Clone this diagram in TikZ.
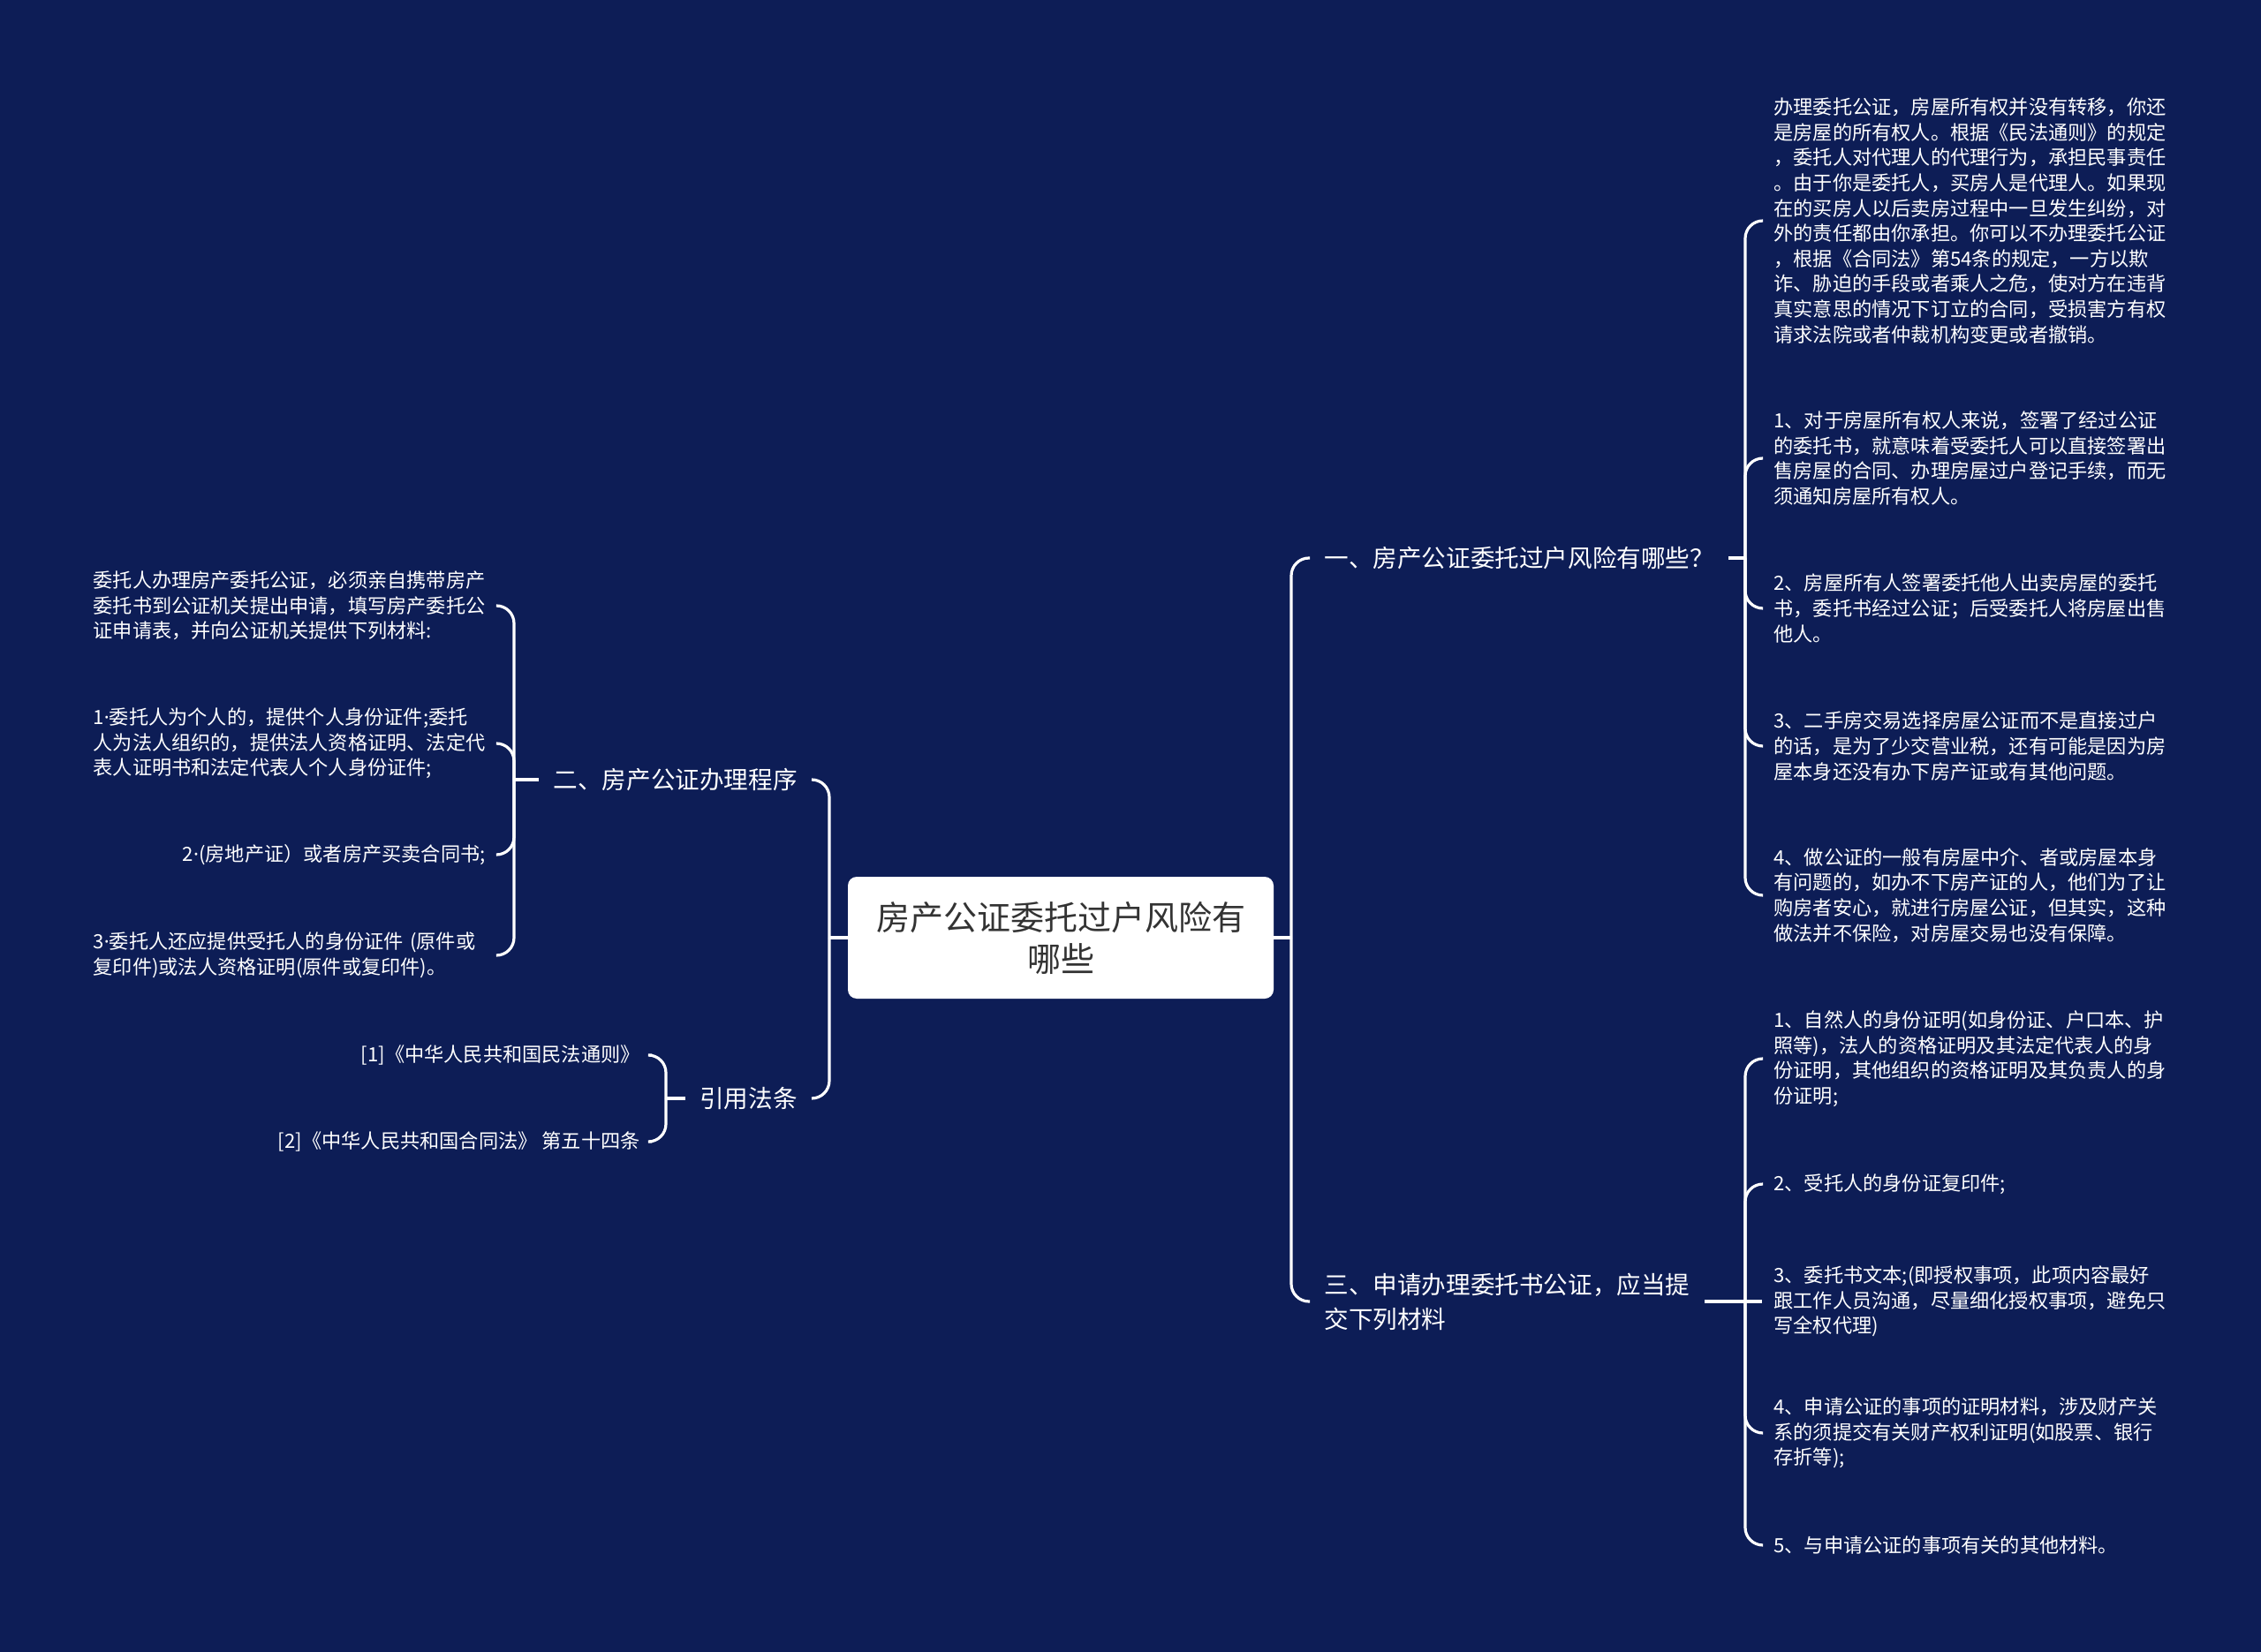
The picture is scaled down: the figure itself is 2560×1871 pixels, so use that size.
\documentclass[tikz,border=0pt]{standalone}
\usepackage{fontspec}
\setmainfont{Noto Sans CJK SC}
\newfontfamily\latinfont{Noto Sans}
\newcommand\mdot{{\latinfont ·}}
\definecolor{bgnavy}{RGB}{13,29,86}
\definecolor{topicgray}{RGB}{51,51,51}

\begin{document}
\begin{tikzpicture}[x=0.5pt,y=-0.5pt,
  link/.style={draw=white,line width=1.6pt,rounded corners=10pt},
  topic/.style={fill=white,rounded corners=5pt,minimum width=241pt,minimum height=69pt,
    align=center,text=topicgray,inner sep=0pt,font=\fontsize{19}{23.5}\selectfont},
  branch/.style={text=white,align=left,inner xsep=8pt,inner ysep=0pt,
    font=\fontsize{13.8}{19.5}\selectfont},
  leaf/.style={text=white,align=left,inner xsep=6.5pt,inner ysep=0pt,
    font=\fontsize{11.1}{14.3}\selectfont},
  wideleaf/.style={leaf,text width=222pt}]
\useasboundingbox (0,0) rectangle (2560,1871);
\fill[bgnavy] (0,0) rectangle (2560,1871);
% ---- central topic ----
\node[topic] (hub) at (1201,1062) {房产公证委托过户风险有\\哪些};
% ---- first level ----
\node[branch,anchor=west] (risk) at (1483,632) {一、房产公证委托过户风险有哪些？};
\node[branch,anchor=west] (apply) at (1483,1474) {三、申请办理委托书公证，应当提\\交下列材料};
\node[branch,anchor=east] (proc) at (919,883) {二、房产公证办理程序};
\node[branch,anchor=east] (law) at (919,1244) {引用法条};
% ---- junctions ----
\coordinate (jr) at (1462,1062);
\coordinate (jl) at (939,1062);
\coordinate (jrisk) at (1976,632);
\coordinate (japply) at (1976,1474);
\coordinate (jproc) at (582,883);
\coordinate (jlaw) at (754,1244);
% ---- leaves: risk ----
\node[leaf,anchor=west] (r1) at (1995,250) {办理委托公证，房屋所有权并没有转移，你还\\是房屋的所有权人。根据《民法通则》的规定\\，委托人对代理人的代理行为，承担民事责任\\。由于你是委托人，买房人是代理人。如果现\\在的买房人以后卖房过程中一旦发生纠纷，对\\外的责任都由你承担。你可以不办理委托公证\\，根据《合同法》第54条的规定，一方以欺\\诈、胁迫的手段或者乘人之危，使对方在违背\\真实意思的情况下订立的合同，受损害方有权\\请求法院或者仲裁机构变更或者撤销。};
\node[leaf,anchor=west] (r2) at (1995,519) {1、对于房屋所有权人来说，签署了经过公证\\的委托书，就意味着受委托人可以直接签署出\\售房屋的合同、办理房屋过户登记手续，而无\\须通知房屋所有权人。};
\node[leaf,anchor=west] (r3) at (1995,689) {2、房屋所有人签署委托他人出卖房屋的委托\\书，委托书经过公证；后受委托人将房屋出售\\他人。};
\node[leaf,anchor=west] (r4) at (1995,845) {3、二手房交易选择房屋公证而不是直接过户\\的话，是为了少交营业税，还有可能是因为房\\屋本身还没有办下房产证或有其他问题。};
\node[leaf,anchor=west] (r5) at (1995,1014) {4、做公证的一般有房屋中介、者或房屋本身\\有问题的，如办不下房产证的人，他们为了让\\购房者安心，就进行房屋公证，但其实，这种\\做法并不保险，对房屋交易也没有保障。};
% ---- leaves: apply ----
\node[leaf,anchor=west] (s1) at (1995,1199) {1、自然人的身份证明(如身份证、户口本、护\\照等)，法人的资格证明及其法定代表人的身\\份证明，其他组织的资格证明及其负责人的身\\份证明;};
\node[leaf,anchor=west] (s2) at (1995,1341) {2、受托人的身份证复印件;};
\node[leaf,anchor=west] (s3) at (1995,1474) {3、委托书文本;(即授权事项，此项内容最好\\跟工作人员沟通，尽量细化授权事项，避免只\\写全权代理)};
\node[leaf,anchor=west] (s4) at (1995,1623) {4、申请公证的事项的证明材料，涉及财产关\\系的须提交有关财产权利证明(如股票、银行\\存折等);};
\node[leaf,anchor=west] (s5) at (1995,1750) {5、与申请公证的事项有关的其他材料。};
% ---- leaves: proc ----
\node[wideleaf,anchor=east] (p1) at (563,686) {委托人办理房产委托公证，必须亲自携带房产\\委托书到公证机关提出申请，填写房产委托公\\证申请表，并向公证机关提供下列材料:};
\node[wideleaf,anchor=east] (p2) at (563,842) {1\mdot 委托人为个人的，提供个人身份证件;委托\\人为法人组织的，提供法人资格证明、法定代\\表人证明书和法定代表人个人身份证件;};
\node[leaf,anchor=east] (p3) at (563,968) {2\mdot(房地产证）或者房产买卖合同书;};
\node[wideleaf,anchor=east] (p4) at (563,1082) {3\mdot 委托人还应提供受托人的身份证件 (原件或\\复印件)或法人资格证明(原件或复印件)。};
% ---- leaves: law ----
\node[leaf,anchor=east] (l1) at (738,1195) {[1]《中华人民共和国民法通则》};
\node[leaf,anchor=east] (l2) at (738,1293) {[2]《中华人民共和国合同法》 第五十四条};
% ---- connectors ----
\draw[link] (hub.east) -- (jr);
\draw[link] (hub.west) -- (jl);
\foreach \b in {risk,apply}{
  \draw[link] (jr) |- (\b.west);
}
\foreach \b in {proc,law}{
  \draw[link] (jl) |- (\b.east);
}
\draw[link] (risk.east) -- (jrisk);
\draw[link] (apply.east) -- (japply);
\draw[link] (proc.west) -- (jproc);
\draw[link] (law.west) -- (jlaw);
\foreach \n in {r1,r2,r3,r4,r5}{
  \draw[link] (jrisk) |- (\n.west);
}
\foreach \n in {s1,s2,s4,s5}{
  \draw[link] (japply) |- (\n.west);
}
\draw[link] (japply) -- (s3.west);
\foreach \n in {p1,p2,p3,p4}{
  \draw[link] (jproc) |- (\n.east);
}
\foreach \n in {l1,l2}{
  \draw[link] (jlaw) |- (\n.east);
}
\end{tikzpicture}
\end{document}
